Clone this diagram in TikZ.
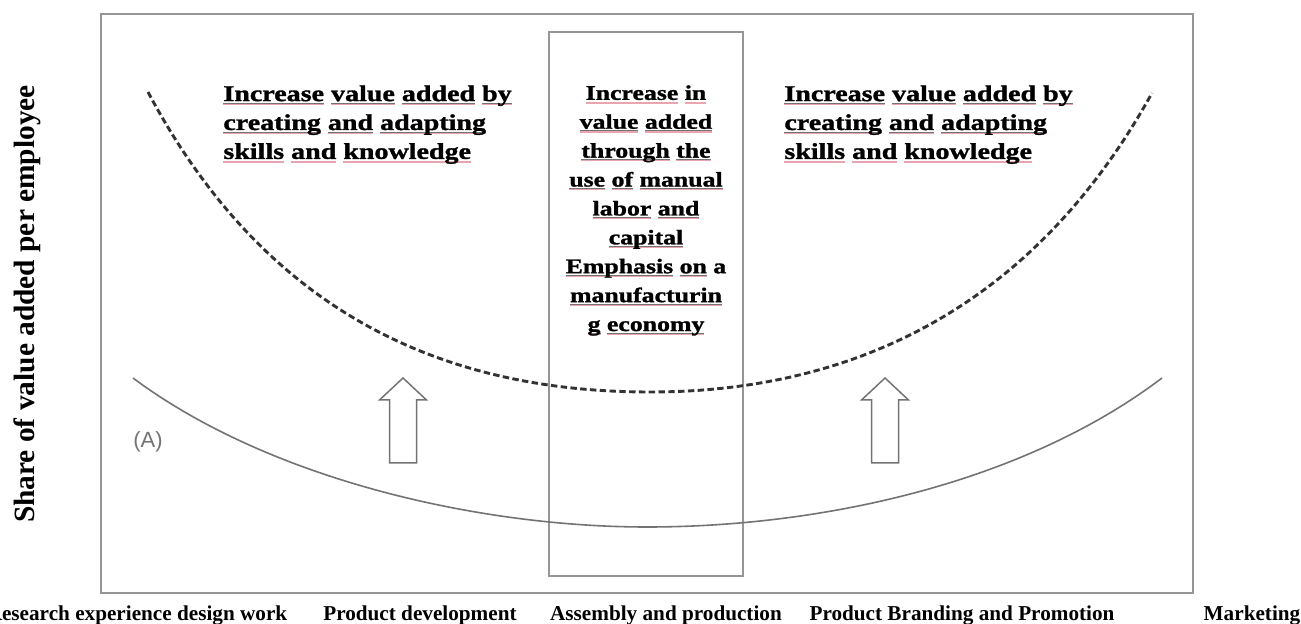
\documentclass[tikz,border=0pt]{standalone}
\usepackage{fontspec}
\setmainfont{Liberation Serif}
\newfontfamily\wideserif[FakeStretch=1.24, BoldFeatures={FakeBold=1.3}]{Liberation Serif}
\newfontfamily\plainsans{Liberation Sans}
\usepackage{tikz}

\definecolor{framegray}{RGB}{150,150,150}
\definecolor{curvegray}{RGB}{115,115,115}
\definecolor{dashgray}{RGB}{50,50,50}
\definecolor{spellred}{RGB}{232,165,175}

% underline one word the way a spell checker marks it
\newsavebox\wordbox
\newcommand\wl[1]{\sbox\wordbox{#1}%
  \rlap{\color{black!55}\rule[-1.2pt]{\wd\wordbox}{0.35pt}}%
  \rlap{\color{spellred}\rule[-1.9pt]{\wd\wordbox}{0.6pt}}%
  \usebox\wordbox}

\tikzset{
  panel/.style={draw=framegray, line width=1.1pt},
  gaintext/.style={font=\wideserif\bfseries\fontsize{11.3}{14.45}\selectfont,
                   align=left, inner sep=0pt, anchor=north west},
  midtext/.style={font=\wideserif\bfseries\fontsize{10.4}{14.45}\selectfont,
                  align=center, inner sep=0pt, anchor=north},
  stagelabel/.style={font=\bfseries\fontsize{10.6}{12}\selectfont,
                     inner sep=0pt, anchor=base},
  hollowarrow/.style={draw=curvegray, line width=0.75pt, line join=miter}
}

\begin{document}
\begin{tikzpicture}[x=0.5pt, y=-0.5pt]

        \useasboundingbox (0,0) rectangle (1301,624);

        % Arrow dimensions (pixels, y grows downwards)
        \def\arrowTop{378}
        \def\arrowNeck{400}
        \def\arrowFoot{463}
        \def\headHalf{23.5}
        \def\shaftHalf{13.5}

        % Outer frame and the assembly column
        \draw[panel] (101,14) rectangle (1193,593);
        \draw[panel, line width=0.9pt] (549,32) rectangle (743,576);

        % Curve after the shift (dashed)
        \draw[dashgray, line width=1.45pt, dash pattern=on 3.2pt off 1.7pt]
            (148,92) .. controls (268,318) and (450,392) .. (650,392)
                     .. controls (850,392) and (1032,310) .. (1152,93);

        % Curve (A)
        \draw[curvegray, line width=0.8pt]
            (133,378) .. controls (270,480) and (480,527) .. (647,527)
                      .. controls (820,527) and (1022,484) .. (1162,378);
        \node[font=\plainsans\fontsize{11}{13}\selectfont, text=curvegray]
            (curveA) at (148,442) {(A)};

        % Hollow up arrows between the curves
        \foreach \ax in {403,885} {
            \draw[hollowarrow] (\ax,\arrowTop)
                -- (\ax+\headHalf,\arrowNeck) -- (\ax+\shaftHalf,\arrowNeck)
                -- (\ax+\shaftHalf,\arrowFoot) -- (\ax-\shaftHalf,\arrowFoot)
                -- (\ax-\shaftHalf,\arrowNeck) -- (\ax-\headHalf,\arrowNeck)
                -- cycle;
        }

        % Texts inside the frame
        \node[gaintext] (leftgain) at (223,85)
            {\wl{Increase} \wl{value} \wl{added} \wl{by}\\
             \wl{creating} \wl{and} \wl{adapting}\\
             \wl{skills} \wl{and} \wl{knowledge}};
        \node[gaintext] (rightgain) at (784,85)
            {\wl{Increase} \wl{value} \wl{added} \wl{by}\\
             \wl{creating} \wl{and} \wl{adapting}\\
             \wl{skills} \wl{and} \wl{knowledge}};
        \node[midtext] (midgain) at (646,85)
            {\wl{Increase} \wl{in}\\
             \wl{value} \wl{added}\\
             \wl{through} \wl{the}\\
             \wl{use} \wl{of} \wl{manual}\\
             \wl{labor} \wl{and}\\
             \wl{capital}\\
             \wl{Emphasis} \wl{on} a\\
             \wl{manufacturin}\\
             \wl{g} \wl{economy}};

        % Axis label
        \node[font=\bfseries\fontsize{14.7}{17}\selectfont, rotate=90, inner sep=0pt]
            (yaxis) at (27,304) {Share of value added per employee};

        % Stages along the bottom
        \foreach \sx/\stxt [count=\i] in {137/Research experience design work,
                420/Product development, 666/Assembly and production,
                962/Product Branding and Promotion, 1252/Marketing} {
            \node[stagelabel] (stage\i) at (\sx,620) {\stxt};
        }

    \end{tikzpicture}
\end{document}
